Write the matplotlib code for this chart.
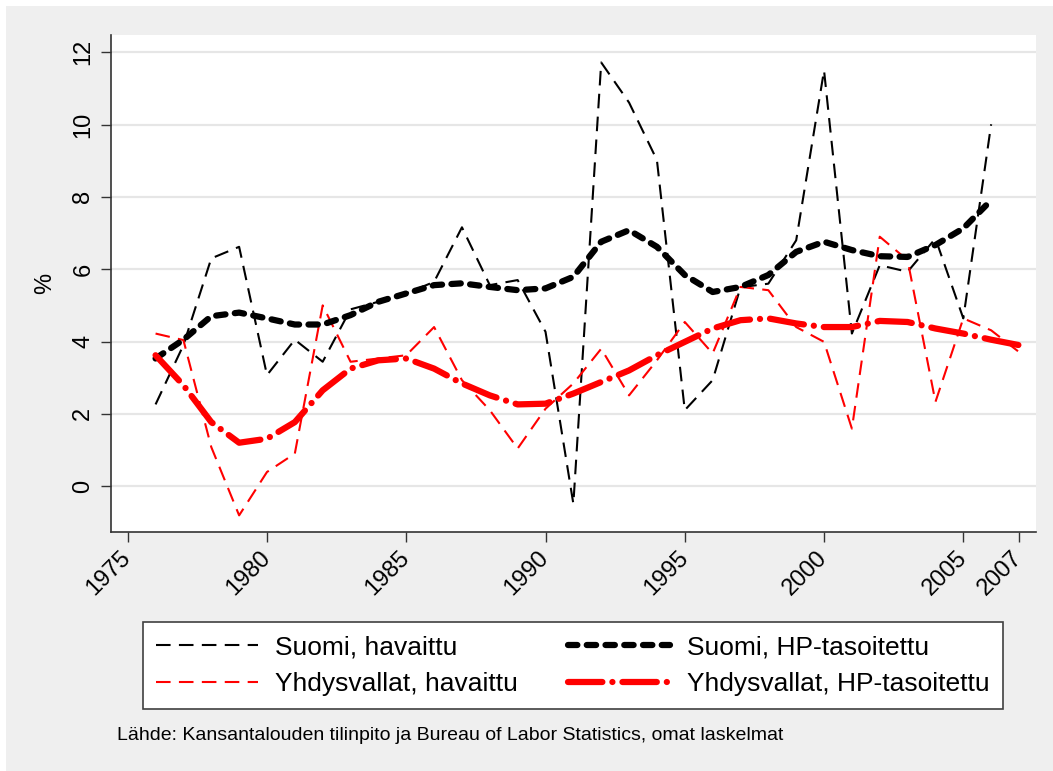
import matplotlib
matplotlib.use("Agg")
import matplotlib.pyplot as plt
from matplotlib.patches import Rectangle

plt.rcParams['font.family'] = ['Liberation Sans', 'DejaVu Sans']

# Data
years = list(range(1976, 2008))
suomi_obs = [2.26, 3.9, 6.3, 6.62, 3.07, 4.05, 3.44, 4.89, 5.1, 5.33, 5.65, 7.16,
             5.56, 5.7, 4.27, -0.49, 11.72, 10.61, 9.02, 2.1, 2.93, 5.5, 5.6, 6.8,
             11.5, 4.22, 6.11, 5.93, 6.85, 4.64, 10.01, None]
suomi_hp = [3.53, 4.05, 4.7, 4.8, 4.64, 4.47, 4.47, 4.73, 5.1, 5.33, 5.56, 5.61,
            5.51, 5.42, 5.47, 5.79, 6.76, 7.08, 6.62, 5.84, 5.37, 5.51, 5.84, 6.48,
            6.76, 6.53, 6.36, 6.34, 6.67, 7.13, 7.91, None]
usa_obs = [4.22, 4.04, 1.08, -0.81, 0.39, 0.9, 5.0, 3.44, 3.53, 3.62, 4.4, 2.93,
           2.1, 1.04, 2.14, 2.84, 3.8, 2.51, 3.48, 4.54, 3.67, 5.51, 5.42, 4.4,
           3.99, 1.59, 6.9, 6.25, 2.33, 4.64, 4.31, 3.71]
usa_hp = [3.62, 2.79, 1.77, 1.2, 1.31, 1.77, 2.65, 3.25, 3.48, 3.53, 3.25, 2.84,
          2.51, 2.26, 2.28, 2.56, 2.88, 3.2, 3.62, 3.99, 4.36, 4.59, 4.64, 4.5,
          4.4, 4.4, 4.57, 4.54, 4.36, 4.22, 4.05, 3.9]

x_ticks = [1975, 1980, 1985, 1990, 1995, 2000, 2005, 2007]
y_ticks = [0, 2, 4, 6, 8, 10, 12]

labels = ["Suomi, havaittu", "Suomi, HP-tasoitettu",
          "Yhdysvallat, havaittu", "Yhdysvallat, HP-tasoitettu"]
source = "Lähde: Kansantalouden tilinpito ja Bureau of Labor Statistics, omat laskelmat"

BG = "#efefef"
W, H = 1053, 771

fig = plt.figure(figsize=(W / 100, H / 100), dpi=100, facecolor="white")
fig.patches.append(Rectangle((6 / W, 0), 1, 1 - 6 / H, transform=fig.transFigure,
                             facecolor=BG, edgecolor="none", zorder=-10))

ax = fig.add_axes([111 / W, 1 - 532 / H, (1036 - 111) / W, (532 - 35) / H])
ax.set_facecolor("white")


def clean(xs, ys):
    pts = [(x, y) for x, y in zip(xs, ys) if y is not None]
    return [p[0] for p in pts], [p[1] for p in pts]


x1, y1 = clean(years, suomi_obs)
x2, y2 = clean(years, suomi_hp)

l1, = ax.plot(x1, y1, color="black", lw=1.5, dashes=(7, 4), zorder=3)
l3, = ax.plot(years, usa_obs, color="red", lw=1.5, dashes=(7, 4), zorder=3)
l2, = ax.plot(x2, y2, color="black", lw=4.5, dashes=(1.5, 1.5),
              dash_capstyle="round", solid_capstyle="round", zorder=4)
l4, = ax.plot(years, usa_hp, color="red", lw=4.5, dashes=(5.5, 1.6, 0.01, 1.6),
              dash_capstyle="round", zorder=4)

ax.set_xlim(1974.4, 2007.61)
ax.set_ylim(-1.27, 12.48)
ax.set_xticks(x_ticks)
ax.set_yticks(y_ticks)
ax.set_xticklabels([str(v) for v in x_ticks], rotation=45, ha="right",
                   va="center", rotation_mode="anchor", fontsize=17)
ax.set_yticklabels([str(v) for v in y_ticks], rotation=90, va="center",
                   fontsize=17)
ax.tick_params(axis="both", length=7, width=1, color="#333333", pad=5)
ax.tick_params(axis="x", pad=9)
ax.yaxis.grid(True, color="#e6e6e6", lw=1.6, zorder=0)
ax.set_axisbelow(True)

for s in ["top", "right"]:
    ax.spines[s].set_visible(False)
for s in ["left", "bottom"]:
    ax.spines[s].set_color("#333333")
    ax.spines[s].set_linewidth(1.2)

ax.set_ylabel("%", fontsize=17, labelpad=12)

leg = fig.legend([l1, l3, l2, l4], [labels[0], labels[2], labels[1], labels[3]],
                 ncol=2, loc="upper left",
                 bbox_to_anchor=(143 / W, 1 - 709 / H, (1003 - 143) / W, (709 - 622) / H),
                 mode="expand", fontsize=19, frameon=True, fancybox=False,
                 framealpha=1, handlelength=3.86, handletextpad=0.64,
                 labelspacing=0.48, borderpad=0.5, columnspacing=1.0,
                 borderaxespad=0)
leg.get_frame().set_edgecolor("#404040")
leg.get_frame().set_facecolor("white")
leg.get_frame().set_linewidth(1.2)

fig.text(117 / W, 1 - 735 / H, source, fontsize=14, va="center", ha="left")

fig.savefig("out.png", dpi=100, facecolor=fig.get_facecolor())
